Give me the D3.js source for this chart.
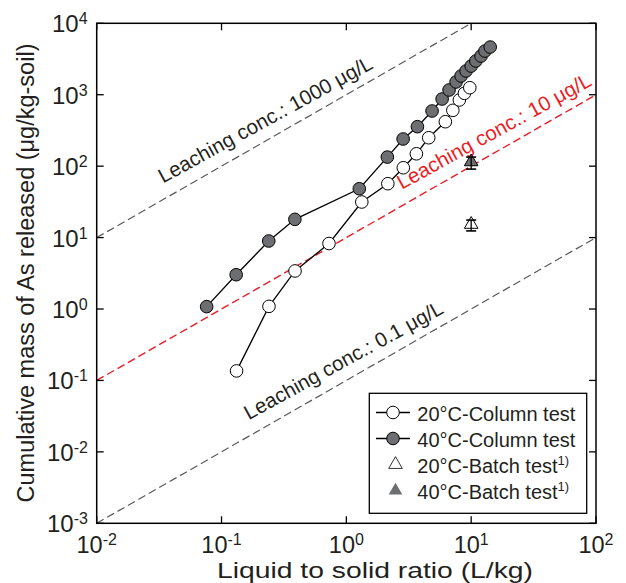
<!DOCTYPE html>
<html><head><meta charset="utf-8">
<script src="https://cdn.jsdelivr.net/npm/d3@7"></script>
<style>
body{margin:0;background:#fff}
svg{display:block}
text{font-family:"Liberation Sans",Arial,Helvetica,sans-serif;fill:#231f20}
</style>
</head><body>
<svg id="chart" width="626" height="583"></svg>
<script>
// Column tests: liquid-to-solid ratio (L/kg) vs cumulative As released (µg/kg-soil)
const col20LS = [0.132, 0.240, 0.388, 0.726, 1.33, 2.15, 2.86, 3.64, 4.57, 6.21, 7.13, 8.04, 8.83, 9.75];
const col20As = [0.136, 1.09, 3.41, 8.26, 31.5, 56.8, 95, 149, 250, 419, 605, 844, 1047, 1254];
const col40LS = [0.076, 0.131, 0.239, 0.387, 1.27, 2.13, 2.85, 3.71, 4.86, 5.85, 6.65, 7.57, 8.30, 9.10, 10.0, 10.9, 12.0, 12.9, 14.2];
const col40As = [1.08, 3.02, 8.96, 18.0, 48.3, 134, 240, 357, 592, 871, 1164, 1508, 1830, 2150, 2520, 2970, 3480, 4090, 4650];

// Batch tests at L/S = 10 with error range
const batchNames = ["20°C-Batch test", "40°C-Batch test"];
const batchLS = [10, 10];
const batchAs = [15.3, 115];
const batchLow = [12.4, 91];
const batchHigh = [17.6, 134];

// Constant leaching concentration reference lines (µg/L): mass = conc × L/S
const leachConc = [1000, 10, 0.1];
const leachText = ["Leaching conc.: 1000 μg/L", "Leaching conc.: 10 μg/L", "Leaching conc.: 0.1 μg/L"];
const leachLabelLS = [0.034, 2.78, 0.165];

// Axis ticks (decades)
const xTickExp = [-2, -1, 0, 1, 2];
const yTickExp = [-3, -2, -1, 0, 1, 2, 3, 4];

const legendNames = ["20°C-Column test", "40°C-Column test", "20°C-Batch test", "40°C-Batch test"];

const GRAY = "#6d6e71", RED = "#ed1c24", DASHGRAY = "#58595b";

const svg = d3.select("#chart");
const L = 96.7, R = 596, T = 23.3, B = 523.3;
const x = d3.scaleLog().domain([1e-2, 1e2]).range([L, R]);
const y = d3.scaleLog().domain([1e-3, 1e4]).range([B, T]);

svg.append("clipPath").attr("id", "plotclip")
  .append("rect").attr("x", L).attr("y", T).attr("width", R - L).attr("height", B - T);

// Reference lines
const ang = Math.atan2(y(1) - y(10), x(10) - x(1)) * 180 / Math.PI;
const plotG = svg.append("g").attr("clip-path", "url(#plotclip)");
leachConc.forEach((c, i) => {
  const xs = [1e-2, 1e2];
  plotG.append("line")
    .attr("x1", x(xs[0])).attr("y1", y(c * xs[0]))
    .attr("x2", x(xs[1])).attr("y2", y(c * xs[1]))
    .attr("stroke", i === 1 ? RED : DASHGRAY)
    .attr("stroke-width", i === 1 ? 1.4 : 1.2)
    .attr("stroke-dasharray", "8,4");
});
leachText.forEach((t, i) => {
  const ls = leachLabelLS[i];
  const px = x(ls), py = y(leachConc[i] * ls) - 16;
  svg.append("text")
    .attr("transform", `translate(${px},${py}) rotate(${-(ang - 1)})`)
    .attr("font-size", 20.5)
    .style("fill", i === 1 ? RED : "#231f20")
    .text(t);
});

// Column test series
function series(ls, as, fill) {
  const pts = ls.map((d, i) => [d, as[i]]);
  svg.append("path").datum(pts)
    .attr("fill", "none").attr("stroke", "#000").attr("stroke-width", 1.3)
    .attr("d", d3.line().x(d => x(d[0])).y(d => y(d[1])));
  svg.append("g").selectAll("circle").data(pts).join("circle")
    .attr("cx", d => x(d[0])).attr("cy", d => y(d[1])).attr("r", 6.3)
    .attr("fill", fill).attr("stroke", "#000").attr("stroke-width", 1);
}
series(col20LS, col20As, "#fff");
series(col40LS, col40As, GRAY);

// Batch tests: triangles with error bars
const tri = d3.symbol().type(d3.symbolTriangle).size(80);
batchLS.forEach((ls, i) => {
  const cx = x(ls);
  const g = svg.append("g");
  g.append("path").attr("d", tri()).attr("transform", `translate(${cx},${y(batchAs[i])})`)
    .attr("fill", i === 0 ? "#fff" : GRAY).attr("stroke", "#000").attr("stroke-width", 1);
  g.append("line").attr("x1", cx).attr("x2", cx).attr("y1", y(batchLow[i])).attr("y2", y(batchHigh[i]))
    .attr("stroke", "#000").attr("stroke-width", 1.3);
  [batchLow[i], batchHigh[i]].forEach(v => {
    g.append("line").attr("x1", cx - 5).attr("x2", cx + 5).attr("y1", y(v)).attr("y2", y(v))
      .attr("stroke", "#000").attr("stroke-width", 1.6);
  });
});

// Frame and ticks
svg.append("rect").attr("x", L).attr("y", T).attr("width", R - L).attr("height", B - T)
  .attr("fill", "none").attr("stroke", "#000").attr("stroke-width", 1.5);
const tk = 7;
xTickExp.forEach(e => {
  const px = x(Math.pow(10, e));
  svg.append("line").attr("x1", px).attr("x2", px).attr("y1", B).attr("y2", B - tk).attr("stroke", "#000").attr("stroke-width", 1.3);
  svg.append("line").attr("x1", px).attr("x2", px).attr("y1", T).attr("y2", T + tk).attr("stroke", "#000").attr("stroke-width", 1.3);
  const t = svg.append("text").attr("x", px).attr("y", B + 30).attr("text-anchor", "middle").attr("font-size", 23.5);
  t.append("tspan").text("10");
  t.append("tspan").attr("dy", -8).attr("font-size", 16).text(e);
});
yTickExp.forEach(e => {
  const py = y(Math.pow(10, e));
  svg.append("line").attr("y1", py).attr("y2", py).attr("x1", L).attr("x2", L + tk).attr("stroke", "#000").attr("stroke-width", 1.3);
  svg.append("line").attr("y1", py).attr("y2", py).attr("x1", R).attr("x2", R - tk).attr("stroke", "#000").attr("stroke-width", 1.3);
  const t = svg.append("text").attr("x", e < 0 ? 47 : 52).attr("y", py + 9).attr("font-size", 24);
  t.append("tspan").text("10");
  t.append("tspan").attr("dy", -8).attr("font-size", 16).text(e);
});

// Axis titles
svg.append("text").attr("x", 375).attr("y", 578).attr("text-anchor", "middle").attr("font-size", 21.5)
  .attr("textLength", 316).attr("lengthAdjust", "spacingAndGlyphs")
  .text("Liquid to solid ratio (L/kg)");
svg.append("text").attr("transform", `translate(34,273) rotate(-90)`).attr("text-anchor", "middle").attr("font-size", 23.5)
  .text("Cumulative mass of As released (μg/kg-soil)");

// Legend
const lg = svg.append("g");
lg.append("rect").attr("x", 369.3).attr("y", 393.3).attr("width", 217.4).attr("height", 120)
  .attr("fill", "#fff").attr("stroke", "#000").attr("stroke-width", 1.3);
legendNames.forEach((n, i) => {
  const cy = 412.5 + i * 26;
  if (i < 2) {
    lg.append("line").attr("x1", 376).attr("x2", 410).attr("y1", cy).attr("y2", cy).attr("stroke", "#000").attr("stroke-width", 1.3);
    lg.append("circle").attr("cx", 393).attr("cy", cy).attr("r", 6.3)
      .attr("fill", i === 0 ? "#fff" : GRAY).attr("stroke", "#000").attr("stroke-width", 1);
  } else {
    lg.append("path").attr("d", tri()).attr("transform", `translate(395.5,${cy})`)
      .attr("fill", i === 2 ? "#fff" : GRAY).attr("stroke", i === 2 ? "#000" : "none").attr("stroke-width", 0.8);
  }
  const t = lg.append("text").attr("x", 417.3).attr("y", cy + 8).attr("font-size", 20);
  t.append("tspan").text(n);
  if (i >= 2) t.append("tspan").attr("dy", -8).attr("font-size", 13).text("1)");
});
</script>
</body></html>
